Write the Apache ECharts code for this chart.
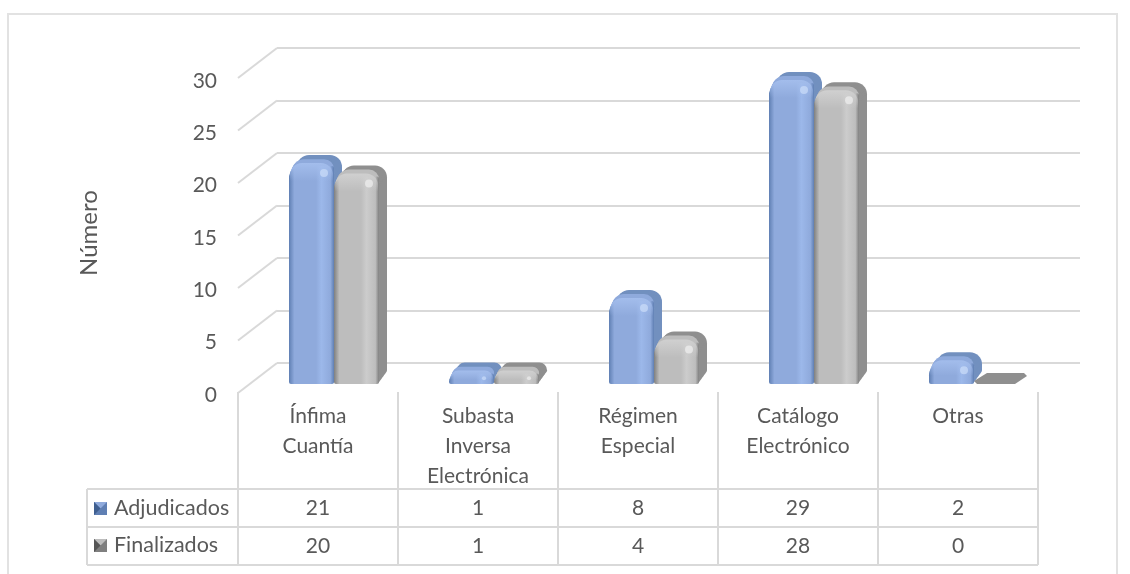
<!DOCTYPE html>
<html><head><meta charset="utf-8">
<style>html,body{margin:0;padding:0;background:#fff}#c{width:1130px;height:574px;filter:blur(0.4px)}</style>
<script src="https://cdn.jsdelivr.net/npm/echarts@6/dist/echarts.min.js"></script>
</head><body><div id="c"></div>
<script>
const categories = ['Ínfima\nCuantía','Subasta\nInversa\nElectrónica','Régimen\nEspecial','Catálogo\nElectrónico','Otras'];
const adjudicados = [21,1,8,29,2];
const finalizados = [20,1,4,28,0];
const seriesNames = ['Adjudicados','Finalizados'];
const yTicks = [0,5,10,15,20,25,30];
const axisTitle = 'Número';

const FONT = 'Lato';
const TXT = '#595959', LINE = '#d9d9d9';
const palettes = [
  {edge:'#5f7fb3', mid:'#8faadc', light:'#9cb8ea', back:'#7290bf', top:'#a3bdec', hi:'#cfe0fb'},
  {edge:'#808080', mid:'#bdbdbd', light:'#cccccc', back:'#8f8f8f', top:'#d0d0d0', hi:'#f2f2f2'}
];
const chart = echarts.init(document.getElementById('c'), null, {renderer:'canvas'});

function barItem(seriesIdx){
  return function(params, api){
    const idx = api.value(0), v = api.value(1);
    const base = api.coord([idx,0]), top = api.coord([idx,v]);
    const w = 45, dx = 8, dy = 11, p = palettes[seriesIdx];
    const x = base[0] + (seriesIdx===0 ? -w : 0), h = base[1]-top[1], y = top[1];
    const kids = [];
    if (v === 0) {
      kids.push({type:'polygon',shape:{points:[[x+3,base[1]],[x+w-4,base[1]],[x+w+8,base[1]-dy+3],[x+w+5,base[1]-dy],[x+dx+5,base[1]-dy],[x,base[1]-3]]},style:{fill:'#8f8f8f'}});
      return {type:'group',children:kids};
    }
    const r = Math.min(12,h*0.8);
    for (let k=8;k>=1;k--){
      kids.push({type:'rect',shape:{x:x+dx*k/8,y:y-dy*k/8,width:w,height:h,r:[r,r,3,3]},style:{fill:p.back}});
    }
    // bevel: the lit part of the top surface, running up from the front face
    const bevelH = Math.min(18,h);
    for (let k=5;k>=1;k--){
      const s = dx*k/8;
      kids.push({type:'rect',shape:{x:x+s*0.6,y:y-dy*k/8,width:w-s*0.6,height:bevelH,r:[r,r-2>0?r-2:0,0,0]},style:{fill:p.mid}});
    }
    kids.push({type:'rect',shape:{x:x,y:y,width:w,height:h,r:[r,2,2,2]},style:{fill:{type:'linear',x:0,y:0,x2:1,y2:0,colorStops:[
      {offset:0,color:p.edge},{offset:0.12,color:p.mid},{offset:0.6,color:p.mid},{offset:0.72,color:p.light},{offset:0.92,color:p.mid},{offset:1,color:p.edge}]}}});
    const capH = Math.min(15,h*0.6);
    kids.push({type:'rect',shape:{x:x+1,y:y-3,width:w-2,height:capH+3,r:[r,r,0,0]},style:{fill:{type:'linear',x:0,y:0,x2:0,y2:1,colorStops:[
      {offset:0,color:p.top},{offset:1,color:p.top+'00'}]}}});
    kids.push({type:'circle',shape:{cx:x+w-10,cy:y+Math.min(7,h*0.45),r:Math.min(4,h*0.2)},style:{fill:p.hi,opacity:0.65}});
    return {type:'group',children:kids};
  };
}

function tableItem(params, api){
  const idx = api.value(0), a = api.value(1), f = api.value(2);
  const cx = api.coord([idx,0])[0], half = api.size([1,0])[0]/2;
  const top = 392, r0 = 489, r1 = 527, r2 = 565, left = cx-half, right = cx+half;
  const ln = (x1,y1,x2,y2)=>({type:'line',shape:{x1,y1,x2,y2},style:{stroke:LINE,lineWidth:2}});
  const txt = (text,x,y,align,size)=>({type:'text',style:{text,x,y,align,verticalAlign:'middle',fill:TXT,font:size+'px '+FONT}});
  const kids = [ln(left,top,left,r2),ln(right,top,right,r2),ln(left,r0,right,r0),ln(left,r1,right,r1),ln(left,r2,right,r2),
    txt(String(a),cx,508,'center',21),txt(String(f),cx,546,'center',21)];
  if (idx === 0) {
    const hx = 87;
    kids.push(ln(hx,r0,left,r0),ln(hx,r1,left,r1),ln(hx,r2,left,r2),ln(hx,r0,hx,r2));
    [[seriesNames[0],508,'#5f7fb3','#8faadc','#3f5f90'],[seriesNames[1],545,'#7f7f7f','#bdbdbd','#555555']].forEach(function(d){
      const kx = 94, ky = d[1]-6, s = 13;
      kids.push({type:'rect',shape:{x:kx,y:ky,width:s,height:s},style:{fill:d[2]}});
      kids.push({type:'polygon',shape:{points:[[kx,ky],[kx+s,ky],[kx+s/2,ky+s/2]]},style:{fill:d[3]}});
      kids.push({type:'polygon',shape:{points:[[kx,ky],[kx,ky+s],[kx+s/2,ky+s/2]]},style:{fill:d[4]}});
      kids.push(txt(d[0],114,d[1],'left',21.5));
    });
  }
  return {type:'group',children:kids};
}

chart.setOption({
  animation:false,
  backgroundColor:'#fff',
  textStyle:{fontFamily:FONT},
  graphic:[{type:'rect',silent:true,z:-1,shape:{x:8,y:14,width:1109,height:580},style:{fill:'none',stroke:'#e2e2e2',lineWidth:2}}],
  grid:[
    {left:238,width:800,top:81,height:314},
    {left:277,width:803,top:48,height:315},
    {left:254,width:800,top:72.6,height:311.4}
  ],
  xAxis:[
    {gridIndex:0,type:'category',data:categories,axisLine:{show:false},axisTick:{show:false},
     axisLabel:{color:TXT,fontFamily:FONT,fontSize:21,lineHeight:30,margin:6,interval:0,verticalAlign:'top'}},
    {gridIndex:1,type:'category',data:categories,show:false},
    {gridIndex:2,type:'category',data:categories,show:false}
  ],
  yAxis:[
    {gridIndex:0,type:'value',min:0,max:30,interval:5,name:axisTitle,nameLocation:'middle',nameGap:137,
     nameTextStyle:{color:TXT,fontFamily:FONT,fontSize:24,padding:[0,0,0,10]},
     axisLine:{show:false},axisTick:{show:false},splitLine:{show:false},
     axisLabel:{color:TXT,fontFamily:FONT,fontSize:21,margin:21}},
    {gridIndex:1,type:'value',min:0,max:30,interval:5,axisLine:{show:false},axisTick:{show:false},axisLabel:{show:false},
     splitLine:{show:true,lineStyle:{color:LINE,width:2}}},
    {gridIndex:2,type:'value',min:0,max:30,interval:5,show:false,splitLine:{show:false}}
  ],
  series:[
    {type:'custom',name:'wall',xAxisIndex:1,yAxisIndex:1,silent:true,z:1,data:yTicks.map(t=>[0,t]),
     renderItem:function(params,api){
       const c = api.coord([0,api.value(1)]);
       const x = api.coord([0,0])[0]-api.size([1,0])[0]/2;
       return {type:'line',shape:{x1:x,y1:c[1],x2:x-39,y2:c[1]+30},style:{stroke:LINE,lineWidth:2}};
     }},
    {type:'custom',name:'table',xAxisIndex:0,yAxisIndex:0,silent:true,z:2,
     data:categories.map((c,i)=>[i,adjudicados[i],finalizados[i]]),renderItem:tableItem},
    {type:'custom',name:seriesNames[0],xAxisIndex:2,yAxisIndex:2,z:3,data:adjudicados.map((v,i)=>[i,v]),renderItem:barItem(0)},
    {type:'custom',name:seriesNames[1],xAxisIndex:2,yAxisIndex:2,z:4,data:finalizados.map((v,i)=>[i,v]),renderItem:barItem(1)}
  ]
});
</script></body></html>
